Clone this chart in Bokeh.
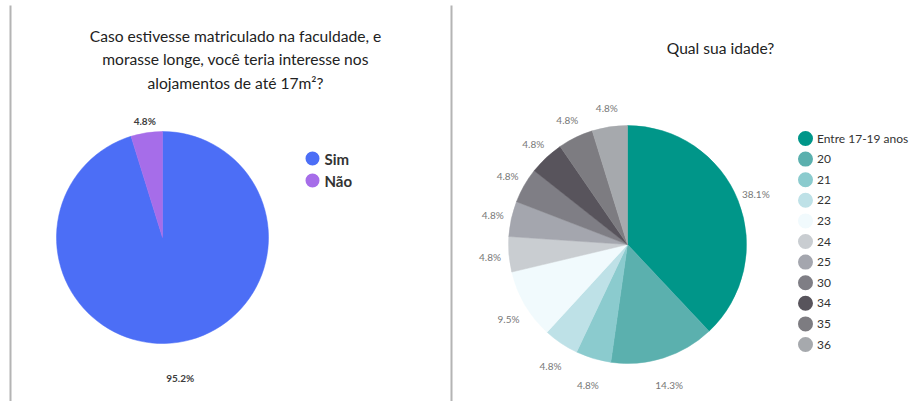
import numpy as np
from bokeh.plotting import figure
from bokeh.models import Range1d
from bokeh.core.properties import value
from bokeh.embed import file_html
from bokeh.resources import INLINE

# ---------------- data ----------------
q1_title_lines = ["Caso estivesse matriculado na faculdade, e",
                  "morasse longe, você teria interesse nos",
                  "alojamentos de até 17m²?"]
q1_labels = ["Sim", "Não"]
q1_values = [95.2, 4.8]
q1_colors = ["#4C6EF6", "#A66DE9"]

q2_title = "Qual sua idade?"
q2_labels = ["Entre 17-19 anos", "20", "21", "22", "23", "24", "25", "30", "34", "35", "36"]
q2_values = [38.1, 14.3, 4.8, 4.8, 9.5, 4.8, 4.8, 4.8, 4.8, 4.8, 4.8]
q2_colors = ["#009689", "#5BB0AE", "#8BCBCE", "#BEE1E7", "#F1FAFD", "#C9CDD1",
             "#A4A6AE", "#7F7E85", "#58545C", "#7D7C81", "#A6A9AD"]

# ---------------- layout ----------------
W, H = 911, 401
FONT = value("Lato")


def Y(py):
    # picture pixel y -> data y
    return H - py


p = figure(width=W, height=H, output_backend="svg", toolbar_location=None,
           x_range=Range1d(0, W), y_range=Range1d(0, H),
           min_border=0)
p.axis.visible = False
p.grid.visible = False
p.outline_line_color = None
p.background_fill_color = "white"
p.border_fill_color = "white"

# separators
for sx in (10, 451):
    p.segment(x0=sx, y0=Y(5), x1=sx, y1=Y(401), line_color="#B4B4B4", line_width=2)


def pie(cx, cy, r, values, colors, label_r, label_drop, label_color, label_size, label_style):
    vals = np.array(values, dtype=float)
    frac = vals / vals.sum()
    cum = np.concatenate([[0.0], np.cumsum(frac)])
    start = np.pi / 2 - cum[:-1] * 2 * np.pi
    end = np.pi / 2 - cum[1:] * 2 * np.pi
    p.wedge(x=[cx] * len(vals), y=[cy] * len(vals), radius=r,
            start_angle=list(start), end_angle=list(end), direction="clock",
            fill_color=colors, line_color=colors, line_width=0.5)
    mid = (start + end) / 2
    lx = cx + label_r * np.cos(mid)
    ly = cy + label_r * np.sin(mid) - label_drop * np.maximum(0, -np.sin(mid))
    p.text(x=list(lx), y=list(ly), text=[f"{v:.1f}%" for v in values],
           text_align="center", text_baseline="middle", text_font=FONT,
           text_font_size=label_size, text_color=label_color, text_font_style=label_style)


def legend(x, y0, dy, r, labels, colors, size, style, gap):
    ys = [Y(y0 + i * dy) for i in range(len(labels))]
    p.scatter(x=[x] * len(labels), y=ys, size=2 * r, marker="circle",
              fill_color=colors, line_color=None)
    p.text(x=[x + r + gap] * len(labels), y=ys, text=labels, text_align="left",
           text_baseline="middle", text_font=FONT, text_font_size=size,
           text_color="#333333", text_font_style=style)


# ---- left chart ----
p.text(x=[235] * len(q1_title_lines),
       y=[Y(35 + i * 23.5) for i in range(len(q1_title_lines))],
       text=q1_title_lines, text_align="center", text_baseline="middle",
       text_font=FONT, text_font_size="15.6px", text_color="#222222")
pie(162, Y(237), 106, q1_values, q1_colors, 118, 24.6, "#3d3d3d", "10px", "bold")
legend(312, 158, 22, 7, q1_labels, q1_colors, "15px", "bold", 5)

# ---- right chart ----
p.text(x=[720], y=[Y(47)], text=[q2_title], text_align="center", text_baseline="middle",
       text_font=FONT, text_font_size="15.6px", text_color="#222222")
pie(627, Y(244), 119, q2_values, q2_colors, 138, 9, "#777777", "10px", "normal")
legend(805, 138, 20.6, 7.5, q2_labels, q2_colors, "12px", "normal", 4)

open("out.html", "w").write(file_html(p, INLINE))
